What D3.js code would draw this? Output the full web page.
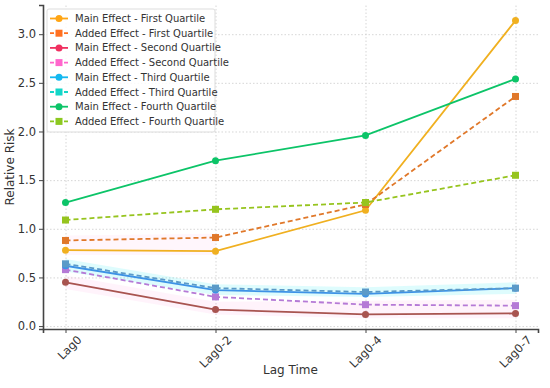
<!DOCTYPE html>
<html>
<head>
<style>
  body { margin: 0; background: #fff; }
  text { font-family: "DejaVu Sans", sans-serif; fill: #333; }
  .grid line { stroke: #ccc; stroke-dasharray: 1.5,2; stroke-width: 0.8; }
  .tick-label { font-size: 11.5px; }
  .legend-text { font-size: 10px; }
</style>
</head>
<body>
<svg id="chart" width="550" height="388"></svg>
<script src="https://cdn.jsdelivr.net/npm/d3@7"></script>
<script>
// categories and values
const lags = ['Lag0', 'Lag0-2', 'Lag0-4', 'Lag0-7'];
const yTicks = [0.0, 0.5, 1.0, 1.5, 2.0, 2.5, 3.0];

const mainFirst = [0.78, 0.77, 1.19, 3.14];
const addedFirst = [0.88, 0.91, 1.25, 2.36];
const mainSecond = [0.45, 0.17, 0.12, 0.13];
const addedSecond = [0.58, 0.30, 0.22, 0.21];
const mainThird = [0.62, 0.37, 0.33, 0.39];
const addedThird = [0.64, 0.39, 0.35, 0.39];
const mainFourth = [1.27, 1.70, 1.96, 2.54];
const addedFourth = [1.09, 1.20, 1.27, 1.55];

// faint shaded bands behind some lines
const bandThirdLow = [0.56, 0.32, 0.30, 0.33];
const bandThirdHigh = [0.69, 0.43, 0.40, 0.45];
const bandSecondLow = [0.38, 0.12, 0.08, 0.08];
const bandSecondHigh = [0.52, 0.25, 0.26, 0.27];
const bandFirstLow = [0.73, 0.73];
const bandFirstHigh = [0.93, 0.95];

const series = [
  { name: 'Main Effect - First Quartile', values: mainFirst, color: '#f0b020', legend: '#ffa514', dashed: false },
  { name: 'Added Effect - First Quartile', values: addedFirst, color: '#e0782a', legend: '#ff7020', dashed: true },
  { name: 'Main Effect - Second Quartile', values: mainSecond, color: '#a85450', legend: '#f03060', dashed: false },
  { name: 'Added Effect - Second Quartile', values: addedSecond, color: '#b57ad6', legend: '#ff66cc', dashed: true },
  { name: 'Main Effect - Third Quartile', values: mainThird, color: '#3d92e6', legend: '#14b8f0', dashed: false },
  { name: 'Added Effect - Third Quartile', values: addedThird, color: '#5b9ac8', legend: '#14d6c8', dashed: true },
  { name: 'Main Effect - Fourth Quartile', values: mainFourth, color: '#0cc468', legend: '#0cc468', dashed: false },
  { name: 'Added Effect - Fourth Quartile', values: addedFourth, color: '#96c41e', legend: '#8cc820', dashed: true }
];

const svg = d3.select('#chart');
const margin = { top: 5, right: 12, bottom: 59, left: 43 };
const width = 550 - margin.left - margin.right;
const height = 388 - margin.top - margin.bottom;

const x = d3.scaleLinear().domain([-0.15, 3.15]).range([0, width]);
const y = d3.scaleLinear().domain([-0.03, 3.30]).range([height, 0]);

const g = svg.append('g').attr('transform', `translate(${margin.left},${margin.top})`);

// grid
g.append('g').attr('class', 'grid')
  .attr('transform', `translate(0,${height})`)
  .call(d3.axisBottom(x).tickValues(d3.range(lags.length)).tickSize(-height).tickFormat(''))
  .call(s => s.select('.domain').remove());
g.append('g').attr('class', 'grid')
  .call(d3.axisLeft(y).tickValues(yTicks).tickSize(-width).tickFormat(''))
  .call(s => s.select('.domain').remove());

// bands
const band = (lo, hi) => d3.area()
  .x((d, i) => x(i))
  .y0((d, i) => y(lo[i]))
  .y1((d, i) => y(hi[i]));
g.append('path').datum(bandThirdLow).attr('d', band(bandThirdLow, bandThirdHigh)).attr('fill', '#00e5f0').attr('opacity', 0.13);
g.append('path').datum(bandSecondLow).attr('d', band(bandSecondLow, bandSecondHigh)).attr('fill', '#ff66cc').attr('opacity', 0.08);
g.append('path').datum(bandFirstLow).attr('d', band(bandFirstLow, bandFirstHigh)).attr('fill', '#ff66cc').attr('opacity', 0.06);

// lines and markers
const line = d3.line().x((d, i) => x(i)).y(d => y(d));
series.forEach(s => {
  g.append('path').datum(s.values)
    .attr('d', line)
    .attr('fill', 'none')
    .attr('stroke', s.color)
    .attr('stroke-width', 1.8)
    .attr('stroke-dasharray', s.dashed ? '5,3' : null);
  if (s.dashed) {
    g.selectAll(null).data(s.values).enter().append('rect')
      .attr('x', (d, i) => x(i) - 3.5).attr('y', d => y(d) - 3.5)
      .attr('width', 7).attr('height', 7).attr('fill', s.color);
  } else {
    g.selectAll(null).data(s.values).enter().append('circle')
      .attr('cx', (d, i) => x(i)).attr('cy', d => y(d))
      .attr('r', 3.5).attr('fill', s.color);
  }
});

// axes
const xAxis = g.append('g').attr('transform', `translate(0,${height})`)
  .call(d3.axisBottom(x).tickValues(d3.range(lags.length)).tickFormat(i => lags[i]).tickSize(4));
xAxis.selectAll('text')
  .attr('class', 'tick-label')
  .attr('text-anchor', 'end')
  .attr('transform', 'rotate(-45)')
  .attr('dx', '0.3em').attr('dy', '1.1em');
const yAxis = g.append('g')
  .call(d3.axisLeft(y).tickValues(yTicks).tickFormat(d3.format('.1f')).tickSize(4));
yAxis.selectAll('text').attr('class', 'tick-label');
[xAxis, yAxis].forEach(a => {
  a.select('.domain').attr('stroke', '#444').attr('stroke-width', 1.6);
  a.selectAll('.tick line').attr('stroke', '#444');
});

// axis titles
svg.append('text').attr('x', margin.left + x(1.5)).attr('y', 374)
  .attr('text-anchor', 'middle').attr('font-size', 12).text('Lag Time');
svg.append('text').attr('transform', `translate(14,${margin.top + height / 2}) rotate(-90)`)
  .attr('text-anchor', 'middle').attr('font-size', 12).text('Relative Risk');

// legend
const legend = svg.append('g').attr('transform', 'translate(47,9)');
legend.append('rect').attr('width', 168).attr('height', 123).attr('rx', 2)
  .attr('fill', '#fff').attr('fill-opacity', 0.85).attr('stroke', '#ddd');
series.forEach((s, i) => {
  const row = legend.append('g').attr('transform', `translate(0,${9.5 + i * 14.7})`);
  row.append('line').attr('x1', 3).attr('x2', 21).attr('y1', 0).attr('y2', 0)
    .attr('stroke', s.legend).attr('stroke-width', 1.8)
    .attr('stroke-dasharray', s.dashed ? '4,3' : null);
  if (s.dashed) {
    row.append('rect').attr('x', 8.5).attr('y', -3.5).attr('width', 7).attr('height', 7).attr('fill', s.legend);
  } else {
    row.append('circle').attr('cx', 12).attr('cy', 0).attr('r', 3.5).attr('fill', s.legend);
  }
  row.append('text').attr('class', 'legend-text').attr('x', 28).attr('y', 3.5).text(s.name);
});
</script>
</body>
</html>
